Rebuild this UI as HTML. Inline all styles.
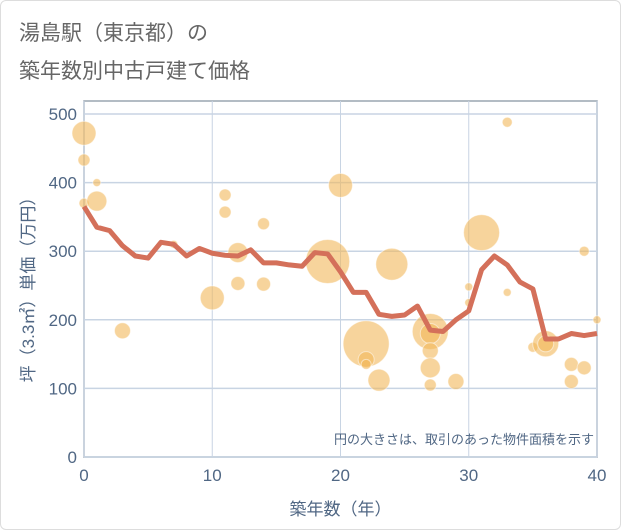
<!DOCTYPE html>
<html><head><meta charset="utf-8"><style>
body{margin:0;background:#fff;font-family:"Liberation Sans","Noto Sans CJK JP",sans-serif;}
#wrap{position:relative;width:619px;height:528px;border:1px solid #ddd;border-radius:6px;overflow:hidden;}
.title{position:absolute;left:18px;font-size:21px;color:#666;}
</style></head><body>
<div id="wrap">
<div class="title" style="top:16px">湯島駅（東京都）の</div>
<div class="title" style="top:54px">築年数別中古戸建て価格</div>
<svg id="chart" width="621" height="530" style="position:absolute;left:0;top:0"></svg>
</div>
<script>
const xTicks=[0,10,20,30,40];
const yTicks=[0,100,200,300,400,500];
const lineYears=[0,1,2,3,4,5,6,7,8,9,10,11,12,13,14,15,16,17,18,19,20,21,22,23,24,25,26,27,28,29,30,31,32,33,34,35,36,37,38,39,40];
const linePrices=[365,335,330,308,293,290,313,310,293,304,297,294,293,302,283,283,280,278,298,296,270,240,240,208,205,207,220,185,183,200,213,273,293,280,255,245,172,172,180,177,180];
const bubbleYears=[0,0,0,1,1,3,7,11,11,12,12,14,14,10,19,20,22,22,22,23,24,27,27,27,27,27,29,30,30,31,33,33,35,36,36,38,38,39,39,40];
const bubblePrices=[472,433,370,400,373,184,310,382,357,298,253,340,252,232,285,396,165,142,135,112,281,183,180,155,130,105,110,248,225,327,488,240,160,165,165,135,110,300,130,200];
const bubbleSizes=[12,6,5,4,10,8,4,6,6,10,7,6,7,12,22,12,23,8,5,11,16,18,10,8,10,6,8,4,4,18,5,4,5,13,8,7,7,5,7,4];
const NS="http://www.w3.org/2000/svg";
const svg=document.getElementById('chart');
const X0=83,X1=596,Y0=456,Y1=113;
const xs=v=>X0+(v-0)/40*(X1-X0);
const ys=v=>Y0-(v/500)*(Y0-Y1);
function mk(t,a){const e=document.createElementNS(NS,t);for(const k in a)e.setAttribute(k,a[k]);svg.appendChild(e);return e;}
const bg=mk('rect',{x:X0,y:100,width:X1-X0,height:Y0-100,fill:'#fff',stroke:'#9aa5b1','stroke-width':1.5});


xTicks.forEach(t=>{
 const g=mk('line',{x1:xs(t),x2:xs(t),y1:100,y2:Y0,stroke:'#c8d4e3','stroke-width':1});
 
 
 const l=mk('text',{x:xs(t),y:Y0+24,'text-anchor':'middle','font-size':17,fill:'#506784'});
 l.textContent=t;
 
 
});
yTicks.forEach(t=>{
 const g=mk('line',{x1:X0,x2:X1,y1:ys(t),y2:ys(t),stroke:'#c8d4e3','stroke-width':1.5});
 
 
 const l=mk('text',{x:X0-7,y:ys(t)+6,'text-anchor':'end','font-size':17,fill:'#506784'});
 l.textContent=t;
 
 
});
bubbleYears.forEach((yr,i)=>{
 const c=mk('circle',{cx:xs(yr),cy:ys(bubblePrices[i]),r:bubbleSizes[i],fill:'#f2b85a','fill-opacity':0.6,stroke:'#fff','stroke-opacity':0.5,'stroke-width':1});
 
 
});
const pts=lineYears.map((yr,i)=>xs(yr)+','+ys(linePrices[i])).join(' ');
const pl=mk('polyline',{points:pts,fill:'none',stroke:'#d4705a','stroke-width':5,'stroke-linejoin':'round'});


const note=mk('text',{x:593,y:443,'text-anchor':'end','font-size':13,fill:'#506784'});
note.textContent='円の大きさは、取引のあった物件面積を示す';


const xt=mk('text',{x:(X0+X1)/2,y:514,'text-anchor':'middle','font-size':17,fill:'#506784'});
xt.textContent='築年数（年）';


const yt=mk('text',{x:0,y:0,'text-anchor':'middle','font-size':17,fill:'#506784',transform:'translate(33,'+((Y0+Y1)/2)+') rotate(-90)'});
yt.textContent='坪（3.3㎡）単価（万円）';


</script>
</body></html>
